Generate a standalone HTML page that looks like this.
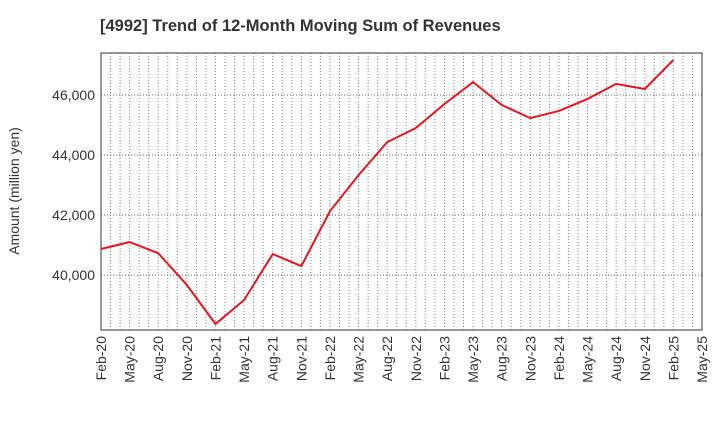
<!DOCTYPE html>
<html><head><meta charset="utf-8"><style>
body{margin:0;background:#fff;font-family:"Liberation Sans",sans-serif;}
</style></head><body>
<svg id="chart" width="720" height="440" xmlns="http://www.w3.org/2000/svg">
<text x="100" y="31" text-anchor="start" font-size="16.5" font-weight="bold" fill="#333">[4992]  Trend of 12-Month Moving Sum of Revenues</text>
<text transform="translate(19,191) rotate(-90)" text-anchor="middle" font-size="14" fill="#333">Amount (million yen)</text>
<g id="grid"></g><g id="axes"></g><g id="series"></g>
</svg>
<script>
const tickLabels=["Feb-20","May-20","Aug-20","Nov-20","Feb-21","May-21","Aug-21","Nov-21","Feb-22","May-22","Aug-22","Nov-22","Feb-23","May-23","Aug-23","Nov-23","Feb-24","May-24","Aug-24","Nov-24","Feb-25","May-25"];
const yTicks=[40000,42000,44000,46000];
const categories=["Feb-20","May-20","Aug-20","Nov-20","Feb-21","May-21","Aug-21","Nov-21","Feb-22","May-22","Aug-22","Nov-22","Feb-23","May-23","Aug-23","Nov-23","Feb-24","May-24","Aug-24","Nov-24","Feb-25"];
const revenues=[40870,41100,40730,39670,38370,39170,40700,40300,42130,43330,44430,44900,45700,46430,45670,45230,45470,45870,46370,46200,47170];
const L=101,R=702,T=53,B=330,yMin=38170,yMax=47400,months=63;
const xm=m=>L+(R-L)*m/months;
const y=v=>B-(v-yMin)/(yMax-yMin)*(B-T);
const ns="http://www.w3.org/2000/svg";
function mk(tag,attrs,parent){const e=document.createElementNS(ns,tag);for(const k in attrs)e.setAttribute(k,attrs[k]);document.getElementById(parent).appendChild(e);return e;}
for(let m=1;m<months;m++){const l=mk('line',{x1:xm(m),x2:xm(m),y1:T,y2:B,stroke:'#888','stroke-dasharray':'1,2','stroke-width':1},'grid');

}
yTicks.forEach(v=>{const l=mk('line',{x1:L,x2:R,y1:y(v),y2:y(v),stroke:'#666','stroke-dasharray':'1,2'},'grid');


const t=mk('text',{x:L-6,y:y(v)+5,'text-anchor':'end','font-size':14,fill:'#333'},'axes');t.textContent=v.toLocaleString('en-US');

});
const f=mk('rect',{x:L,y:T,width:R-L,height:B-T,fill:'none',stroke:'#333'},'axes');


tickLabels.forEach((s,i)=>{const x=xm(i*3);const t=mk('text',{transform:`translate(${x+5},${B+6}) rotate(-90)`,'text-anchor':'end','font-size':14,fill:'#333'},'axes');t.textContent=s;

});
const p=mk('polyline',{points:revenues.map((v,i)=>xm(i*3)+','+y(v)).join(' '),fill:'none',stroke:'#e8161b','stroke-width':2},'series');


</script>
</body></html>
